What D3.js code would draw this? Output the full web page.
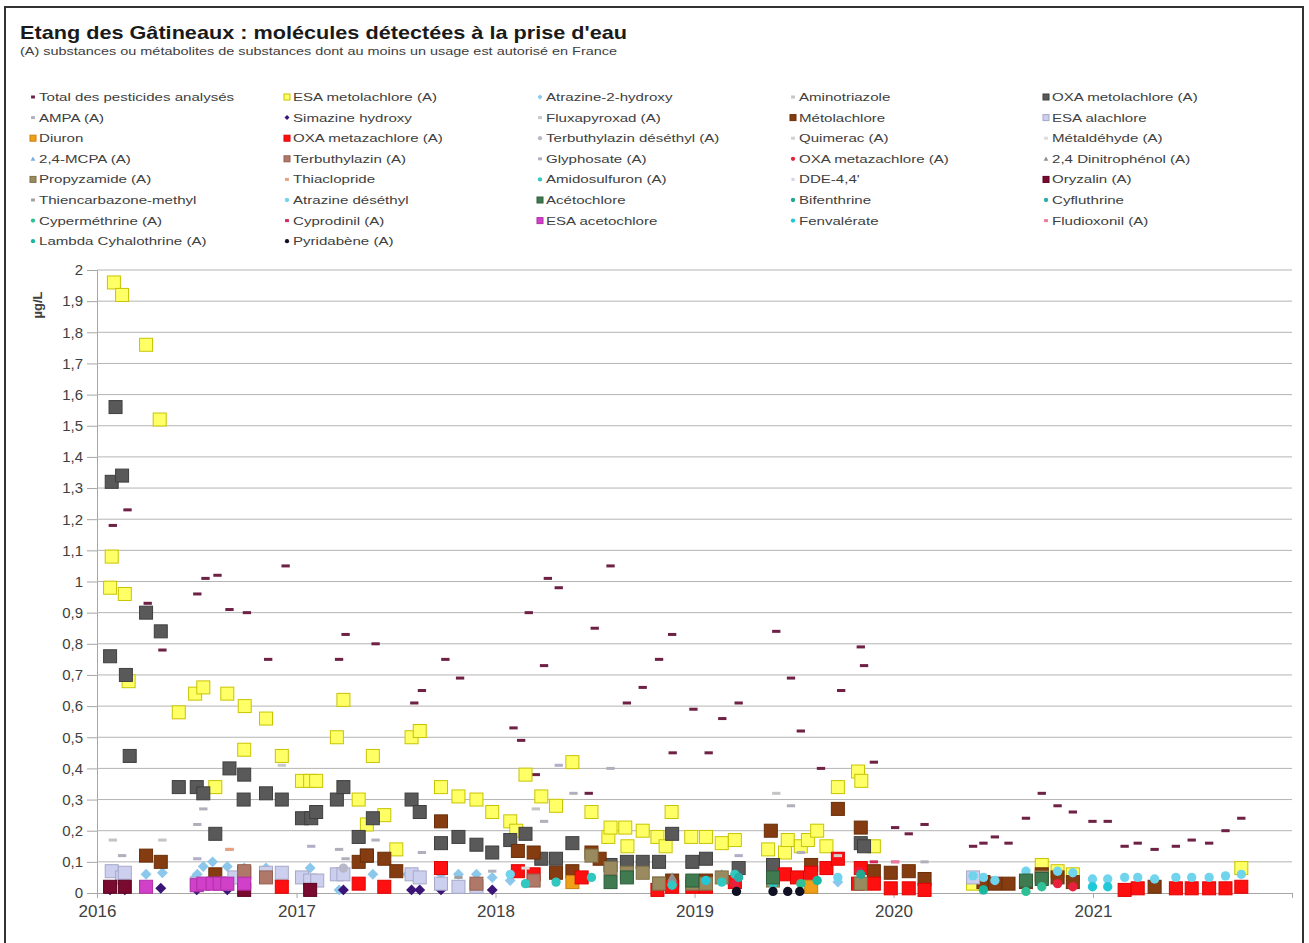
<!DOCTYPE html>
<html><head><meta charset="utf-8">
<script src="https://cdn.jsdelivr.net/npm/d3@7"></script>
<style>body{margin:0;background:#fff}svg{display:block}text{font-family:Arial,"Liberation Sans",sans-serif}</style>
</head><body><svg id="c" width="1309" height="943"></svg>
<script>
// ---------- DATA ----------
const yTicks = [0,0.1,0.2,0.3,0.4,0.5,0.6,0.7,0.8,0.9,1,1.1,1.2,1.3,1.4,1.5,1.6,1.7,1.8,1.9,2];
const yearTicks = ["2016","2017","2018","2019","2020","2021","2022"];

const total = [["2016-01-30",1.18],["2016-02-26",1.23],["2016-04-03",0.93],["2016-04-30",0.78],["2016-07-03",0.96],["2016-07-18",1.01],["2016-08-09",1.02],["2016-08-31",0.91],["2016-10-02",0.90],["2016-11-10",0.75],["2016-12-12",1.05],["2017-03-20",0.75],["2017-04-01",0.83],["2017-05-26",0.80],["2017-08-05",0.61],["2017-08-19",0.65],["2017-10-01",0.75],["2017-10-28",0.69],["2018-02-03",0.53],["2018-02-17",0.49],["2018-03-03",0.90],["2018-03-16",0.38],["2018-03-31",0.73],["2018-04-07",1.01],["2018-04-27",0.98],["2018-06-21",0.32],["2018-07-02",0.85],["2018-07-31",1.05],["2018-08-30",0.61],["2018-09-28",0.66],["2018-10-28",0.75],["2018-11-21",0.83],["2018-11-22",0.45],["2018-12-30",0.59],["2019-01-27",0.45],["2019-02-21",0.56],["2019-03-23",0.61],["2019-05-31",0.84],["2019-06-27",0.69],["2019-07-15",0.52],["2019-08-21",0.40],["2019-09-27",0.65],["2019-11-02",0.79],["2019-11-08",0.73],["2019-11-26",0.42],["2020-01-04",0.21],["2020-01-29",0.19],["2020-02-27",0.22],["2020-05-26",0.15],["2020-06-14",0.16],["2020-07-05",0.18],["2020-07-30",0.16],["2020-08-31",0.24],["2020-09-29",0.32],["2020-10-28",0.28],["2020-11-25",0.26],["2020-12-31",0.23],["2021-01-28",0.23],["2021-02-28",0.15],["2021-03-24",0.16],["2021-04-24",0.14],["2021-06-02",0.15],["2021-07-01",0.17],["2021-08-02",0.16],["2021-09-01",0.20],["2021-09-30",0.24]];

const esaMetolachlore = [["2016-01-25",0.98],["2016-01-28",1.08],["2016-02-01",1.96],["2016-02-16",1.92],["2016-02-21",0.96],["2016-02-28",0.68],["2016-03-31",1.76],["2016-04-25",1.52],["2016-05-30",0.58],["2016-06-29",0.64],["2016-07-14",0.66],["2016-08-05",0.34],["2016-08-27",0.64],["2016-09-27",0.46],["2016-09-28",0.60],["2016-11-06",0.56],["2016-12-05",0.44],["2017-01-11",0.36],["2017-01-26",0.36],["2017-02-06",0.36],["2017-03-16",0.50],["2017-03-28",0.62],["2017-04-25",0.30],["2017-05-10",0.22],["2017-05-21",0.44],["2017-06-11",0.25],["2017-07-03",0.14],["2017-07-31",0.50],["2017-08-15",0.52],["2017-09-23",0.34],["2017-10-25",0.31],["2017-11-27",0.30],["2017-12-26",0.26],["2018-01-28",0.23],["2018-02-08",0.20],["2018-02-25",0.38],["2018-03-26",0.31],["2018-04-22",0.28],["2018-05-22",0.42],["2018-06-26",0.26],["2018-07-27",0.18],["2018-07-31",0.21],["2018-08-27",0.21],["2018-08-31",0.15],["2018-09-28",0.20],["2018-10-25",0.18],["2018-11-09",0.15],["2018-11-20",0.26],["2018-12-26",0.18],["2019-01-22",0.18],["2019-02-20",0.16],["2019-03-16",0.17],["2019-05-16",0.14],["2019-06-16",0.13],["2019-06-21",0.17],["2019-07-15",0.15],["2019-07-28",0.17],["2019-08-14",0.20],["2019-08-31",0.15],["2019-09-21",0.34],["2019-10-28",0.39],["2019-11-03",0.36],["2019-11-26",0.15],["2020-05-26",0.03],["2020-09-29",0.09],["2020-10-28",0.07],["2020-11-25",0.06],["2021-09-30",0.08]];

const atrazine2Hydroxy = [["2016-02-23",0.06],["2016-03-31",0.06],["2016-04-30",0.065],["2016-06-29",0.05],["2016-07-03",0.06],["2016-07-14",0.085],["2016-07-31",0.10],["2016-08-27",0.085],["2016-09-27",0.08],["2016-11-06",0.08],["2016-12-05",0.07],["2017-01-26",0.08],["2017-03-20",0.01],["2017-05-21",0.06],["2017-07-24",0.06],["2017-09-23",0.06],["2017-10-25",0.06],["2017-11-27",0.06],["2017-12-26",0.05],["2018-01-28",0.04],["2019-09-21",0.035]];

const aminotriazole = [["2016-01-30",0.17],["2016-04-30",0.17],["2017-04-25",0.19],["2018-03-16",0.27],["2019-05-31",0.32]];

const oxaMetolachlore = [["2016-01-25",0.76],["2016-01-28",1.32],["2016-02-04",1.56],["2016-02-16",1.34],["2016-02-23",0.70],["2016-03-01",0.44],["2016-03-31",0.90],["2016-04-27",0.84],["2016-05-30",0.34],["2016-07-02",0.34],["2016-07-14",0.32],["2016-08-05",0.19],["2016-08-31",0.40],["2016-09-26",0.30],["2016-09-27",0.38],["2016-11-06",0.32],["2016-12-05",0.30],["2017-01-11",0.24],["2017-01-28",0.24],["2017-02-06",0.26],["2017-03-16",0.30],["2017-03-28",0.34],["2017-04-25",0.18],["2017-05-10",0.12],["2017-05-21",0.24],["2017-07-31",0.30],["2017-08-15",0.26],["2017-09-23",0.16],["2017-10-25",0.18],["2017-11-27",0.155],["2017-12-26",0.13],["2018-01-28",0.17],["2018-02-25",0.19],["2018-03-26",0.11],["2018-04-22",0.11],["2018-05-22",0.16],["2018-07-31",0.09],["2018-08-30",0.10],["2018-09-28",0.10],["2018-10-28",0.10],["2018-11-21",0.19],["2018-12-28",0.10],["2019-01-22",0.11],["2019-03-23",0.08],["2019-05-25",0.09],["2019-11-02",0.16],["2019-11-08",0.15]];

const ampa = [["2016-02-16",0.12],["2016-07-03",0.22],["2016-07-14",0.27],["2016-08-31",0.14],["2017-03-20",0.14],["2017-04-01",0.11],["2017-05-26",0.17],["2017-08-19",0.13],["2017-12-26",0.07],["2018-03-31",0.23],["2018-05-24",0.32],["2018-07-31",0.40],["2019-06-27",0.28],["2019-07-15",0.13],["2020-01-04",0.10],["2020-02-27",0.10]];
const simazineHydroxy = [["2016-01-25",0.01],["2016-02-21",0.01],["2016-04-27",0.015],["2016-07-02",0.01],["2016-08-27",0.01],["2016-09-27",0.01],["2017-01-26",0.01],["2017-03-28",0.01],["2017-07-31",0.01],["2017-08-15",0.01],["2017-09-23",0.01],["2017-12-26",0.01]];
const fluxapyroxad = [["2016-12-05",0.41]];
const metolachlore = [["2016-03-31",0.12],["2016-04-27",0.10],["2016-08-05",0.06],["2016-09-27",0.065],["2017-04-25",0.10],["2017-05-10",0.12],["2017-06-11",0.11],["2017-07-03",0.07],["2017-09-23",0.23],["2018-02-11",0.135],["2018-03-12",0.13],["2018-04-22",0.065],["2018-05-22",0.07],["2018-06-26",0.13],["2018-07-11",0.11],["2018-10-28",0.03],["2018-11-21",0.04],["2019-01-22",0.04],["2019-05-21",0.20],["2019-08-03",0.09],["2019-09-21",0.27],["2019-11-02",0.21],["2019-11-26",0.07],["2019-12-27",0.065],["2020-01-29",0.07],["2020-02-27",0.045],["2020-06-14",0.035],["2020-07-05",0.03],["2020-07-30",0.03],["2020-08-31",0.035],["2020-09-29",0.06],["2020-10-28",0.05],["2020-11-25",0.035],["2021-04-24",0.02]];
const esaAlachlore = [["2016-01-28",0.07],["2016-02-16",0.05],["2016-02-21",0.065],["2016-07-02",0.03],["2016-08-27",0.03],["2016-09-09",0.05],["2016-09-27",0.04],["2016-11-06",0.065],["2016-12-05",0.065],["2017-01-11",0.05],["2017-01-26",0.04],["2017-02-08",0.04],["2017-03-16",0.06],["2017-03-28",0.06],["2017-07-31",0.06],["2017-08-15",0.05],["2017-09-23",0.03],["2017-10-25",0.02],["2017-11-27",0.02],["2020-05-26",0.05]];
const diuron = [["2018-05-22",0.035],["2019-08-03",0.02]];
const oxaMetazachlore = [["2016-12-05",0.02],["2017-04-25",0.03],["2017-06-11",0.02],["2017-09-23",0.08],["2018-02-11",0.07],["2018-03-12",0.06],["2018-06-08",0.05],["2018-10-25",0.01],["2018-11-21",0.02],["2018-12-28",0.02],["2019-01-22",0.02],["2019-03-16",0.035],["2019-06-16",0.06],["2019-07-08",0.05],["2019-08-03",0.065],["2019-08-31",0.08],["2019-09-21",0.11],["2019-10-28",0.03],["2019-11-02",0.08],["2019-11-26",0.03],["2019-12-27",0.015],["2020-01-29",0.015],["2020-02-27",0.01],["2021-02-28",0.01],["2021-03-24",0.015],["2021-06-02",0.015],["2021-07-01",0.015],["2021-08-02",0.015],["2021-09-01",0.015],["2021-09-30",0.02]];
const terbuthylazinDesethyl = [["2016-09-27",0.07],["2017-03-28",0.08]];
const quimerac = [["2019-09-21",0.12]];
const metaldehyde = [["2018-02-25",0.08]];
const mcpa = [["2018-11-21",0.04],["2019-02-20",0.06]];
const terbuthylazin = [["2016-09-27",0.07],["2016-11-06",0.05],["2017-11-27",0.03],["2018-03-12",0.04]];
const glyphosate = [["2016-07-03",0.11],["2017-01-28",0.15],["2018-04-27",0.41],["2019-03-23",0.12]];
const oxaMetazachlore2 = [["2019-03-16",0.03],["2019-10-30",0.07],["2020-10-28",0.03],["2020-11-25",0.02]];
const dinitrophenol = [["2018-11-21",0.05]];
const propyzamide = [["2018-06-26",0.12],["2018-07-31",0.08],["2018-08-30",0.065],["2018-09-28",0.065],["2018-10-28",0.03],["2018-12-28",0.03],["2019-01-22",0.03],["2019-02-20",0.05],["2019-05-25",0.04],["2019-11-02",0.03],["2020-09-29",0.05]];
const thiaclopride = [["2016-08-31",0.14]];
const amidosulfuron = [["2018-02-25",0.03],["2018-04-22",0.035],["2018-06-26",0.05],["2018-07-31",0.03],["2018-11-21",0.025],["2019-02-20",0.035],["2019-03-16",0.06],["2019-05-25",0.03]];
const dde = [["2020-06-14",0.005]];
const oryzalin = [["2016-01-25",0.02],["2016-02-21",0.02],["2016-09-27",0.01],["2017-01-26",0.01]];
const thiencarbazone = [["2017-10-25",0.05]];
const atrazineDesethyl = [["2018-01-28",0.06],["2019-09-21",0.05],["2020-05-26",0.055],["2020-06-14",0.05],["2020-07-05",0.04],["2020-08-31",0.07],["2020-10-28",0.07],["2020-11-25",0.065],["2020-12-31",0.045],["2021-01-28",0.045],["2021-02-28",0.05],["2021-03-24",0.05],["2021-04-24",0.045],["2021-06-02",0.05],["2021-07-01",0.05],["2021-08-02",0.05],["2021-09-01",0.055],["2021-09-30",0.06]];
const acetochlore = [["2018-07-31",0.035],["2018-08-30",0.05],["2018-12-28",0.04],["2019-05-25",0.05],["2020-08-31",0.04],["2020-09-29",0.045]];
const bifenthrine = [["2019-11-02",0.06]];
const cyfluthrine = [["2019-03-23",0.05]];
const cypermethrine = [["2019-07-15",0.03],["2020-08-31",0.005],["2020-09-29",0.02]];
const cyprodinil = [["2019-11-26",0.10]];
const esaAcetochlore = [["2016-03-31",0.02],["2016-07-02",0.025],["2016-07-14",0.03],["2016-07-31",0.03],["2016-08-13",0.03],["2016-08-27",0.03],["2016-09-27",0.03]];
const fenvalerate = [["2019-01-22",0.04],["2020-12-31",0.02],["2021-01-28",0.02]];
const fludioxonil = [["2020-01-04",0.10]];
const lambdaCyhalothrine = [["2019-08-14",0.04],["2020-06-14",0.01]];
const pyridabene = [["2019-03-19",0.005],["2019-05-25",0.005],["2019-06-21",0.005],["2019-07-13",0.005]];

// ---------- SERIES (legend order) ----------
const series = [
 {name:"Total des pesticides analysés", data:total, shape:"dash", color:"#6e2145"},
 {name:"ESA metolachlore (A)", data:esaMetolachlore, shape:"square", color:"#ffff66", stroke:"#c8c400"},
 {name:"Atrazine-2-hydroxy", data:atrazine2Hydroxy, shape:"diamond", color:"#8cc8ec"},
 {name:"Aminotriazole", data:aminotriazole, shape:"dash", color:"#c4c4c4"},
 {name:"OXA metolachlore (A)", data:oxaMetolachlore, shape:"square", color:"#595959", stroke:"#3f3f3f"},
 {name:"AMPA (A)", data:ampa, shape:"dash", color:"#b0b0bc"},
 {name:"Simazine hydroxy", data:simazineHydroxy, shape:"diamond", color:"#3b1478"},
 {name:"Fluxapyroxad (A)", data:fluxapyroxad, shape:"dash", color:"#c8c8c8"},
 {name:"Métolachlore", data:metolachlore, shape:"square", color:"#843c10", stroke:"#6a2e08"},
 {name:"ESA alachlore", data:esaAlachlore, shape:"square", color:"#ccd0ee", stroke:"#a6a8c8"},
 {name:"Diuron", data:diuron, shape:"square", color:"#f0a018", stroke:"#c88010"},
 {name:"OXA metazachlore (A)", data:oxaMetazachlore, shape:"square", color:"#ff1010", stroke:"#e00000"},
 {name:"Terbuthylazin déséthyl (A)", data:terbuthylazinDesethyl, shape:"circle", color:"#b8b8c8"},
 {name:"Quimerac (A)", data:quimerac, shape:"dash", color:"#d0d0d0"},
 {name:"Métaldéhyde (A)", data:metaldehyde, shape:"dash", color:"#dcdcdc"},
 {name:"2,4-MCPA (A)", data:mcpa, shape:"triangle", color:"#78b0e0"},
 {name:"Terbuthylazin (A)", data:terbuthylazin, shape:"square", color:"#b07868", stroke:"#946050"},
 {name:"Glyphosate (A)", data:glyphosate, shape:"dash", color:"#b4acc8"},
 {name:"OXA metazachlore (A)", data:oxaMetazachlore2, shape:"circle", color:"#e8203c"},
 {name:"2,4 Dinitrophénol (A)", data:dinitrophenol, shape:"triangle", color:"#909090"},
 {name:"Propyzamide (A)", data:propyzamide, shape:"square", color:"#9a8a60", stroke:"#7e7048"},
 {name:"Thiaclopride", data:thiaclopride, shape:"dash", color:"#e8a080"},
 {name:"Amidosulfuron (A)", data:amidosulfuron, shape:"circle", color:"#30c8c0"},
 {name:"DDE-4,4'", data:dde, shape:"smallsquare", color:"#d8d0e8"},
 {name:"Oryzalin (A)", data:oryzalin, shape:"square", color:"#7a0a30", stroke:"#5a0020"},
 {name:"Thiencarbazone-methyl", data:thiencarbazone, shape:"dash", color:"#a0a0a0"},
 {name:"Atrazine déséthyl", data:atrazineDesethyl, shape:"circle", color:"#70d4ec"},
 {name:"Acétochlore", data:acetochlore, shape:"square", color:"#3f7a50", stroke:"#2e5e3c"},
 {name:"Bifenthrine", data:bifenthrine, shape:"circle", color:"#20a890"},
 {name:"Cyfluthrine", data:cyfluthrine, shape:"circle", color:"#28b0a8"},
 {name:"Cyperméthrine (A)", data:cypermethrine, shape:"circle", color:"#30c098"},
 {name:"Cyprodinil (A)", data:cyprodinil, shape:"dash", color:"#d02a5a"},
 {name:"ESA acetochlore", data:esaAcetochlore, shape:"square", color:"#d040c8", stroke:"#b030a8"},
 {name:"Fenvalérate", data:fenvalerate, shape:"circle", color:"#20c8d8"},
 {name:"Fludioxonil (A)", data:fludioxonil, shape:"dash", color:"#f07898"},
 {name:"Lambda Cyhalothrine (A)", data:lambdaCyhalothrine, shape:"circle", color:"#18b8a0"},
 {name:"Pyridabène (A)", data:pyridabene, shape:"circle", color:"#101024"}
];

// ---------- DRAW ----------
const svg = d3.select("#c");
const parse = d3.timeParse("%Y-%m-%d");
const W = 1309, H = 943;
const plot = {left:97, right:1292, top:270, bottom:893};
const x = d3.scaleTime().domain([parse(yearTicks[0]+"-01-01"), parse(yearTicks[yearTicks.length-1]+"-01-01")]).range([plot.left, plot.right]);
const y = d3.scaleLinear().domain([0,2]).range([plot.bottom, plot.top]);
const fr = d3.formatLocale({decimal:",", thousands:" ", grouping:[3], currency:["","€"]});
const fmt = fr.format("~g");

svg.append("rect").attr("x",0).attr("y",0).attr("width",W).attr("height",H).attr("fill","#fff");
svg.append("rect").attr("x",5).attr("y",7).attr("width",1298).attr("height",945).attr("fill","none").attr("stroke","#333").attr("stroke-width",2);

// title
svg.append("text").attr("x",20).attr("y",39).attr("font-size",19).attr("font-weight","bold").attr("fill","#1a1a1a")
  .attr("textLength",607).attr("lengthAdjust","spacingAndGlyphs")
  .text("Etang des Gâtineaux : molécules détectées à la prise d'eau");
svg.append("text").attr("x",20).attr("y",55).attr("font-size",11).attr("fill","#404040")
  .attr("textLength",597).attr("lengthAdjust","spacingAndGlyphs")
  .text("(A) substances ou métabolites  de substances dont au moins un usage est autorisé en France");

// grid
const gy = svg.append("g").attr("transform",`translate(${plot.left},0)`)
  .call(d3.axisLeft(y).tickValues(yTicks).tickSize(10).tickFormat(fmt));
gy.select(".domain").attr("stroke","#a6a6a6");
gy.selectAll(".tick line").attr("stroke","#a6a6a6");
gy.selectAll(".tick text").attr("font-size",15).attr("fill","#404040").attr("x",-14).attr("font-family","Arial");
svg.append("g").selectAll("line").data(yTicks.filter(d=>d>0)).join("line")
  .attr("x1",plot.left).attr("x2",plot.right).attr("y1",d=>y(d)).attr("y2",d=>y(d))
  .attr("stroke","#b4b4b4").attr("stroke-width",1);

const gx = svg.append("g").attr("transform",`translate(0,${plot.bottom})`)
  .call(d3.axisBottom(x).tickValues(yearTicks.map(s=>parse(s+"-01-01"))).tickSize(5)
     .tickFormat(d => d.getFullYear() < 2022 ? d3.timeFormat("%Y")(d) : ""));
gx.select(".domain").attr("stroke","#a6a6a6");
gx.selectAll(".tick line").attr("stroke","#a6a6a6");
gx.selectAll(".tick text").attr("font-size",17).attr("fill","#404040").attr("dy","0.95em").attr("font-family","Arial");

svg.append("text").attr("transform","translate(42,305) rotate(-90)").attr("text-anchor","middle")
  .attr("font-size",13).attr("font-weight","bold").attr("fill","#404040").text("µg/L");

// markers
function marker(sel, shape, s, color, stroke){
  if(shape==="square"){
    sel.append("rect").attr("x",-s/2).attr("y",-s/2).attr("width",s).attr("height",s)
      .attr("fill",color).attr("stroke",stroke||color).attr("stroke-width",1);
  } else if(shape==="smallsquare"){
    const q=s*0.5;
    sel.append("rect").attr("x",-q/2).attr("y",-q/2).attr("width",q).attr("height",q).attr("fill",color);
  } else if(shape==="dash"){
    sel.append("rect").attr("x",-s*0.32).attr("y",-1.5).attr("width",s*0.64).attr("height",3).attr("fill",color);
  } else if(shape==="circle"){
    sel.append("circle").attr("r",s*0.36).attr("fill",color);
  } else if(shape==="diamond"){
    const r=s*0.42;
    sel.append("path").attr("d",`M0,${-r}L${r},0L0,${r}L${-r},0Z`).attr("fill",color);
  } else if(shape==="triangle"){
    const r=s*0.4;
    sel.append("path").attr("d",`M0,${-r}L${r},${r*0.8}L${-r},${r*0.8}Z`).attr("fill",color);
  }
}
const plotG = svg.append("g");
series.forEach(sr=>{
  const g = plotG.append("g");
  sr.data.forEach(d=>{
    const m = g.append("g").attr("transform",`translate(${x(parse(d[0]))},${y(d[1])})`);
    marker(m, sr.shape, 13, sr.color, sr.stroke);
  });
});

// legend
const colX = [33, 287, 540, 793, 1046];
const rowY0 = 97, rowDy = 20.6;
const lg = svg.append("g");
series.forEach((sr,i)=>{
  const cx = colX[i%5], cy = rowY0 + Math.floor(i/5)*rowDy;
  const m = lg.append("g").attr("transform",`translate(${cx},${cy})`);
  marker(m, sr.shape, 6, sr.color, sr.stroke);
  lg.append("text").attr("transform",`translate(${cx+6},${cy+4}) scale(1.37,1)`)
    .attr("font-size",11).attr("fill","#404040").text(sr.name);
});
</script></body></html>
